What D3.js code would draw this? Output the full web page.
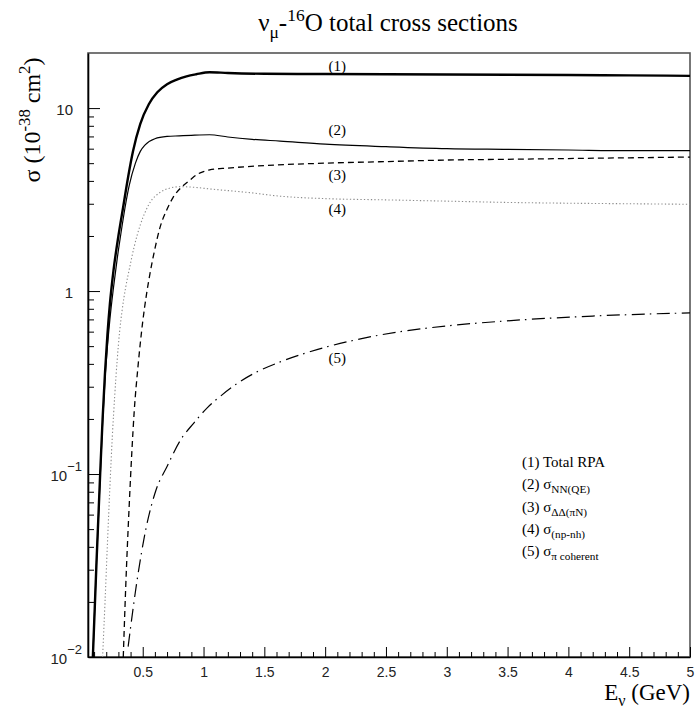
<!DOCTYPE html>
<html>
<head>
<meta charset="utf-8">
<script src="https://cdnjs.cloudflare.com/ajax/libs/d3/7.8.5/d3.min.js"></script>
<style>
  body { margin: 0; background: #fff; }
  svg { display: block; }
</style>
</head>
<body>
<svg id="chart" width="698" height="709"></svg>
<script>
// ---- data (E in GeV, sigma in 1e-38 cm^2) ----
const eTotal = [0.09, 0.12, 0.15, 0.17, 0.19, 0.21, 0.23, 0.26, 0.30, 0.34, 0.38, 0.42, 0.48, 0.55, 0.62, 0.70, 0.78, 0.86, 0.94, 1.05, 1.2, 1.5, 2.0, 2.5, 3.0, 3.5, 4.0, 4.5, 5.0];
const sTotal = [0.01, 0.033, 0.1, 0.2, 0.36, 0.58, 0.85, 1.3, 2.0, 2.9, 4.2, 5.8, 8.2, 10.5, 12.2, 13.5, 14.3, 14.9, 15.3, 15.7, 15.55, 15.4, 15.35, 15.3, 15.25, 15.2, 15.15, 15.1, 15.0];

const eQE = [0.09, 0.12, 0.15, 0.17, 0.19, 0.21, 0.23, 0.26, 0.29, 0.32, 0.36, 0.39, 0.44, 0.48, 0.52, 0.60, 0.70, 0.80, 0.90, 1.05, 1.2, 1.4, 1.63, 2.0, 2.5, 3.0, 3.5, 4.0, 4.5, 5.0];
const sQE = [0.01, 0.033, 0.095, 0.19, 0.33, 0.5, 0.7, 1.05, 1.5, 2.05, 3.0, 3.8, 5.0, 5.8, 6.3, 6.8, 7.0, 7.05, 7.1, 7.15, 6.95, 6.75, 6.6, 6.35, 6.15, 6.0, 5.95, 5.9, 5.85, 5.85];

const eDelta = [0.34, 0.36, 0.39, 0.41, 0.43, 0.46, 0.50, 0.53, 0.56, 0.60, 0.64, 0.70, 0.75, 0.82, 0.89, 0.95, 1.0, 1.05, 1.2, 1.5, 2.0, 2.5, 3.0, 3.5, 4.0, 4.5, 5.0];
const sDelta = [0.01, 0.024, 0.07, 0.13, 0.22, 0.38, 0.68, 0.95, 1.25, 1.7, 2.2, 2.8, 3.25, 3.7, 4.05, 4.35, 4.5, 4.6, 4.7, 4.85, 5.0, 5.1, 5.2, 5.25, 5.3, 5.35, 5.4];

const eNpNh = [0.17, 0.19, 0.21, 0.23, 0.25, 0.27, 0.29, 0.31, 0.33, 0.36, 0.39, 0.43, 0.48, 0.52, 0.56, 0.64, 0.72, 0.81, 0.90, 1.08, 1.38, 1.63, 2.0, 2.5, 3.0, 3.5, 4.0, 4.5, 5.0];
const sNpNh = [0.01, 0.02, 0.042, 0.085, 0.16, 0.27, 0.42, 0.6, 0.78, 1.05, 1.32, 1.75, 2.3, 2.7, 3.05, 3.45, 3.65, 3.72, 3.7, 3.6, 3.45, 3.3, 3.2, 3.15, 3.1, 3.05, 3.02, 3.0, 2.98];

const eCoh = [0.38, 0.45, 0.53, 0.61, 0.70, 0.81, 0.92, 1.03, 1.15, 1.3, 1.47, 1.63, 1.94, 2.3, 2.62, 3.0, 3.4, 4.2, 5.0];
const sCoh = [0.0114, 0.0253, 0.0516, 0.082, 0.11, 0.153, 0.19, 0.23, 0.27, 0.32, 0.37, 0.41, 0.48, 0.55, 0.60, 0.645, 0.68, 0.73, 0.76];

const xTicks = [0.5, 1, 1.5, 2, 2.5, 3, 3.5, 4, 4.5, 5];
const xTickLabels = ["0.5", "1", "1.5", "2", "2.5", "3", "3.5", "4", "4.5", "5"];
const yTicks = [0.01, 0.1, 1, 10];
const yTickBase = ["10", "10", "1", "10"];
const yTickExp = ["\u22122", "\u22121", "", ""];

const curveTags = ["(1)", "(2)", "(3)", "(4)", "(5)"];
const curveTagE = [2.1, 2.1, 2.1, 2.1, 2.1];
const curveTagS = [16.0, 7.1, 4.05, 2.64, 0.406];

// ---- layout ----
const SERIF = '"Liberation Serif", Tinos, "Times New Roman", Times, "Nimbus Roman", "DejaVu Serif", serif';
const SANS = '"Liberation Sans", Arimo, Arial, Helvetica, "Nimbus Sans", sans-serif';

const svg = d3.select('#chart');
const plotL = 88, plotR = 690, plotT = 53, plotB = 657;

const x = d3.scaleLinear().domain([0.05, 5]).range([plotL, plotR]);
const y = d3.scaleLog().domain([0.01, 20]).range([plotB, plotT]);

// text with sub/superscripts: parts = [[text, shift, scale]]
function richText(sel, parts, size) {
  let prev = 0;
  parts.forEach(([t, shift, scale]) => {
    sel.append('tspan')
      .attr('dy', shift - prev)
      .attr('font-size', size * (scale || 1))
      .text(t);
    prev = shift;
  });
}

function serifText(parent) {
  return parent.append('text')
    .attr('font-family', SERIF)
    .attr('fill', '#000');
}

svg.append('clipPath').attr('id', 'plotClip')
  .append('rect')
  .attr('x', plotL).attr('y', plotT)
  .attr('width', plotR - plotL).attr('height', plotB - plotT);

// frame (top/right grey like the original)
svg.append('rect')
  .attr('x', plotL).attr('y', plotT)
  .attr('width', plotR - plotL).attr('height', plotB - plotT)
  .attr('fill', 'none')
  .attr('stroke', '#555')
  .attr('stroke-width', 1.6);

// ---- x axis ----
const xMinor = d3.range(0.1, 5.0001, 0.1).filter(v => Math.abs(v * 2 - Math.round(v * 2)) > 1e-6);

svg.append('g')
  .attr('transform', `translate(0,${plotB})`)
  .call(d3.axisBottom(x).tickValues(xMinor).tickSizeInner(-5).tickSizeOuter(0).tickFormat(''))
  .call(g => g.select('.domain').remove())
  .call(g => g.selectAll('line').attr('stroke', '#000'));

const xAxis = svg.append('g')
  .attr('transform', `translate(0,${plotB})`)
  .call(d3.axisBottom(x)
    .tickValues(xTicks)
    .tickSizeInner(-10)
    .tickSizeOuter(0)
    .tickPadding(10)
    .tickFormat((d, i) => xTickLabels[i]));
xAxis.attr('font-family', SANS).attr('font-size', 14);
xAxis.select('.domain').attr('stroke', '#000').attr('stroke-width', 1.6);
xAxis.selectAll('line').attr('stroke', '#000');
xAxis.selectAll('text').attr('fill', '#222');

// ---- y axis ----
const yMinor = [];
[0.01, 0.1, 1, 10].forEach(dec => {
  for (let k = 2; k <= 9; k++) {
    const v = dec * k;
    if (v < 20) yMinor.push(v);
  }
});

svg.append('g')
  .attr('transform', `translate(${plotL},0)`)
  .call(d3.axisLeft(y).tickValues(yMinor).tickSizeInner(-6).tickSizeOuter(0).tickFormat(''))
  .call(g => g.select('.domain').remove())
  .call(g => g.selectAll('line').attr('stroke', '#000'));

const yAxis = svg.append('g')
  .attr('transform', `translate(${plotL},0)`)
  .call(d3.axisLeft(y)
    .tickValues(yTicks)
    .tickSizeInner(-12)
    .tickSizeOuter(0)
    .tickFormat(''));
yAxis.attr('font-family', SANS).attr('font-size', 15);
yAxis.select('.domain').attr('stroke', '#000').attr('stroke-width', 1.6);
yAxis.selectAll('line').attr('stroke', '#000');

yAxis.selectAll('.tick').each(function (d, i) {
  const t = d3.select(this).select('text');
  const hasExp = yTickExp[i] !== '';
  t.attr('x', hasExp ? -6 : -15)
    .attr('dy', null)
    .attr('y', 6)
    .attr('fill', '#222')
    .attr('text-anchor', 'end');
  t.append('tspan').text(yTickBase[i]);
  if (hasExp) {
    t.append('tspan').attr('dy', -10).attr('font-size', 13).text(yTickExp[i]);
  }
});

// ---- curves ----
const line = d3.line()
  .x(d => x(d[0]))
  .y(d => y(d[1]))
  .curve(d3.curveMonotoneX);

const series = [
  { e: eNpNh, s: sNpNh, color: '#8a8a8a', width: 1.1, dash: '1.3,2.2' },
  { e: eCoh, s: sCoh, color: '#000', width: 1.2, dash: '13,5,1.5,5.5' },
  { e: eDelta, s: sDelta, color: '#000', width: 1.3, dash: '6,4' },
  { e: eQE, s: sQE, color: '#000', width: 1.2, dash: null },
  { e: eTotal, s: sTotal, color: '#000', width: 2.4, dash: null }
];

const curves = svg.append('g').attr('clip-path', 'url(#plotClip)');
series.forEach(sr => {
  curves.append('path')
    .datum(sr.e.map((e, i) => [e, sr.s[i]]))
    .attr('d', line)
    .attr('fill', 'none')
    .attr('stroke', sr.color)
    .attr('stroke-width', sr.width)
    .attr('stroke-dasharray', sr.dash)
    .attr('stroke-linejoin', 'round');
});

// curve tags
curveTags.forEach((t, i) => {
  serifText(svg)
    .attr('x', x(curveTagE[i]))
    .attr('y', y(curveTagS[i]))
    .attr('text-anchor', 'middle')
    .attr('font-size', 15)
    .text(t);
});

// ---- legend ----
const legendParts = [
  [["(1) Total RPA", 0, 1]],
  [["(2) \u03c3", 0, 1], ["NN(QE)", 4, 0.75]],
  [["(3) \u03c3", 0, 1], ["\u0394\u0394(\u03c0N)", 4, 0.75]],
  [["(4) \u03c3", 0, 1], ["(np-nh)", 4, 0.75]],
  [["(5) \u03c3", 0, 1], ["\u03c0 coherent", 4, 0.75]]
];
legendParts.forEach((parts, i) => {
  const t = serifText(svg)
    .attr('x', 522)
    .attr('y', 467 + i * 22.3)
    .attr('font-size', 15);
  richText(t, parts, 15);
});

// ---- titles ----
const title = serifText(svg)
  .attr('x', 388)
  .attr('y', 31)
  .attr('text-anchor', 'middle')
  .attr('font-size', 25);
richText(title, [["\u03bd", 0, 1], ["\u03bc", 7, 0.7], ["-", 0, 1], ["16", -10, 0.7], ["O total cross sections", 0, 1]], 25);

const yLabel = serifText(svg)
  .attr('transform', 'translate(40,120) rotate(-90)')
  .attr('text-anchor', 'middle')
  .attr('font-size', 24);
richText(yLabel, [["\u03c3 (10", 0, 1], ["-38", -10, 0.7], [" cm", 0, 1], ["2", -10, 0.7], [")", 0, 1]], 24);

const xLabel = serifText(svg)
  .attr('x', 690)
  .attr('y', 700)
  .attr('text-anchor', 'end')
  .attr('font-size', 23);
richText(xLabel, [["E", 0, 1], ["\u03bd", 6, 0.7], [" (GeV)", 0, 1]], 23);
</script>
</body>
</html>
